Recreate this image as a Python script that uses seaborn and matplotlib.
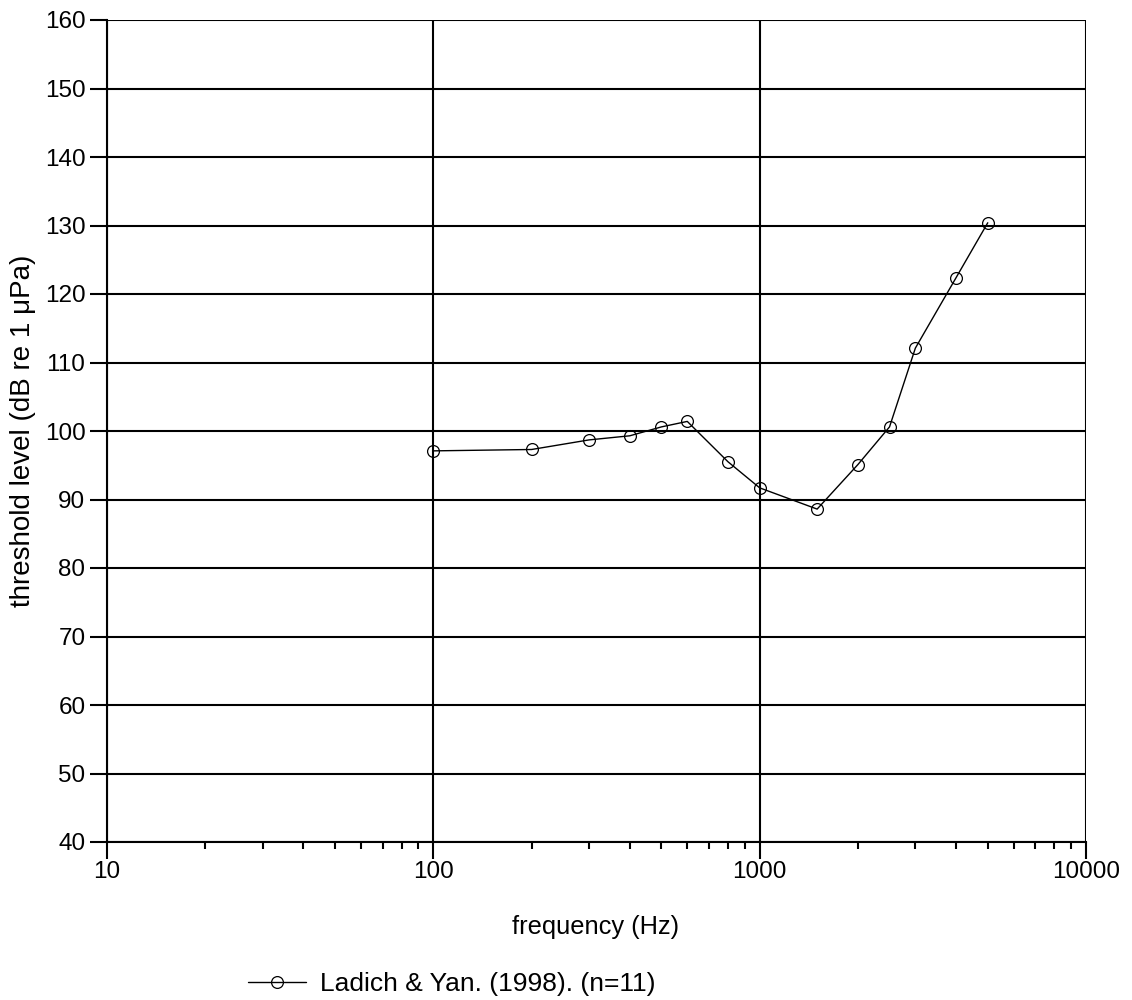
import matplotlib
matplotlib.use("Agg")
import matplotlib.pyplot as plt
import seaborn as sns
import pandas as pd
from matplotlib.ticker import LogLocator, FixedLocator, NullFormatter

frequency_hz = [100, 200, 300, 400, 500, 600, 800, 1000, 1500, 2000, 2500, 3000, 4000, 5000]
threshold_db = [97.1, 97.3, 98.7, 99.3, 100.6, 101.4, 95.5, 91.7, 88.6, 95.1, 100.6, 112.1, 122.4, 130.4]
series_label = "Ladich & Yan. (1998). (n=11)"
x_ticks = [10, 100, 1000, 10000]
x_tick_labels = ["10", "100", "1000", "10000"]
y_ticks = list(range(40, 161, 10))

df = pd.DataFrame({"frequency": frequency_hz, "threshold": threshold_db, "series": series_label})

sns.set_style("white")
plt.rcParams['font.family'] = ['Liberation Sans', 'DejaVu Sans']
plt.rcParams['font.size'] = 17.5
plt.rcParams['text.color'] = 'black'
plt.rcParams['axes.labelcolor'] = 'black'
plt.rcParams['xtick.color'] = 'black'
plt.rcParams['ytick.color'] = 'black'

fig = plt.figure(figsize=(11.32, 10), dpi=100)
ax = fig.add_axes([107/1132, 1-842/1000, (1086-107)/1132, (842-20)/1000])

sns.lineplot(data=df, x="frequency", y="threshold", ax=ax, color="black",
             marker="o", markersize=8.5, markerfacecolor="none",
             markeredgecolor="black", markeredgewidth=0.9, linewidth=1.0,
             label=series_label, legend=False, zorder=5)

ax.set_xscale("log")
ax.set_xlim(10, 10000)
ax.set_ylim(40, 160)
ax.xaxis.set_major_locator(FixedLocator(x_ticks))
ax.set_xticklabels(x_tick_labels)
ax.xaxis.set_minor_locator(LogLocator(base=10, subs=range(2, 10)))
ax.xaxis.set_minor_formatter(NullFormatter())
ax.yaxis.set_major_locator(FixedLocator(y_ticks))
ax.set_yticklabels([str(v) for v in y_ticks])

ax.grid(True, which="major", color="black", linewidth=1.5)
ax.set_axisbelow(True)
for side in ["top", "right"]:
    ax.spines[side].set_visible(False)
for side in ["left", "bottom"]:
    ax.spines[side].set_color("black")
    ax.spines[side].set_linewidth(1.5)

ax.tick_params(axis="x", which="major", direction="out", length=12, width=1.5,
               color="black", labelcolor="black", pad=2, labelsize=17.5, bottom=True)
ax.tick_params(axis="x", which="minor", direction="out", length=5, width=1.5,
               color="black", bottom=True)
ax.tick_params(axis="y", which="major", direction="out", length=12, width=1.5,
               color="black", labelcolor="black", pad=3.5, labelsize=17.5, left=True)

ax.set_xlabel("frequency (Hz)", fontsize=18.3, color="black")
ax.set_ylabel("threshold level (dB re 1 μPa)", fontsize=20, color="black")
ax.xaxis.set_label_coords(0.499, -0.089)
ax.yaxis.set_label_coords(-0.0725, 0.5)

handles, labels = ax.get_legend_handles_labels()
leg = fig.legend(handles, labels, loc="center", bbox_to_anchor=(0.399, 0.016),
                 frameon=False, fontsize=19, handlelength=2.2, handletextpad=0.5)
for t in leg.get_texts():
    t.set_color("black")

fig.savefig("out.png", dpi=100, facecolor="white")
